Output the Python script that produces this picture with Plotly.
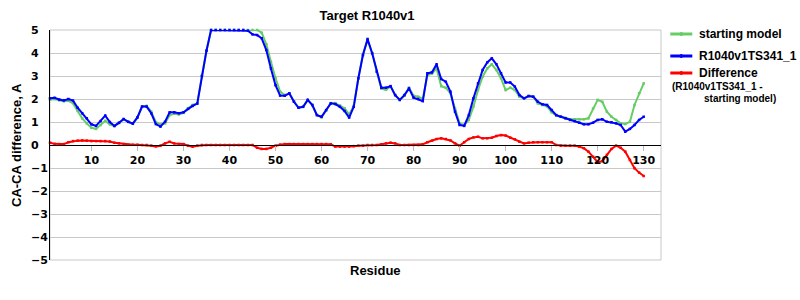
import plotly.graph_objects as go

residues = list(range(1, 131))

starting_model = [
    1.97, 2.00, 1.94, 1.90, 1.92, 1.82, 1.48, 1.16, 0.94, 0.75,
    0.70, 0.87, 1.05, 0.90, 0.82, 0.95, 1.12, 1.00, 0.92, 1.20,
    1.68, 1.70, 1.45, 0.99, 0.90, 0.94, 1.30, 1.36, 1.33, 1.40,
    1.60, 1.74, 1.81, 3.00, 4.10, 5.00, 5.00, 5.00, 5.00, 5.00,
    5.00, 5.00, 5.00, 5.00, 5.00, 5.00, 4.88, 4.38, 3.62, 2.90,
    2.32, 2.17, 2.25, 1.90, 1.62, 1.66, 1.96, 1.74, 1.30, 1.20,
    1.50, 1.82, 1.82, 1.72, 1.60, 1.33, 1.70, 2.90, 3.95, 4.55,
    4.00, 3.20, 2.45, 2.40, 2.55, 2.17, 1.96, 2.14, 2.49, 2.14,
    2.10, 2.00, 3.04, 3.10, 3.33, 2.56, 2.49, 2.25, 1.59, 0.94,
    0.87, 1.09, 1.67, 2.39, 2.97, 3.33, 3.51, 3.26, 2.90, 2.39,
    2.49, 2.39, 2.10, 2.03, 2.13, 2.10, 1.81, 1.74, 1.68, 1.42,
    1.28, 1.23, 1.18, 1.12, 1.12, 1.12, 1.12, 1.16, 1.59, 1.96,
    1.88, 1.45, 1.23, 1.09, 0.94, 0.91, 1.01, 1.74, 2.25, 2.68,
]

model = [
    2.03, 2.05, 1.98, 1.94, 2.00, 1.93, 1.62, 1.38, 1.16, 0.90,
    0.83, 1.04, 1.28, 1.00, 0.83, 0.97, 1.13, 1.01, 0.93, 1.20,
    1.67, 1.67, 1.38, 0.91, 0.80, 1.01, 1.42, 1.42, 1.38, 1.42,
    1.57, 1.70, 1.80, 3.00, 4.10, 5.00, 5.00, 5.00, 5.00, 5.00,
    5.00, 5.00, 5.00, 4.97, 4.81, 4.78, 4.64, 4.13, 3.33, 2.60,
    2.15, 2.14, 2.25, 1.88, 1.62, 1.66, 1.96, 1.74, 1.30, 1.23,
    1.52, 1.81, 1.78, 1.66, 1.48, 1.19, 1.66, 2.90, 3.91, 4.61,
    3.99, 3.19, 2.49, 2.49, 2.56, 2.17, 1.96, 2.17, 2.46, 2.06,
    2.00, 1.91, 3.12, 3.16, 3.51, 2.87, 2.75, 2.32, 1.45, 0.87,
    0.83, 1.30, 2.03, 2.68, 3.26, 3.59, 3.77, 3.51, 3.12, 2.72,
    2.72, 2.54, 2.17, 2.03, 2.13, 2.10, 1.88, 1.77, 1.74, 1.52,
    1.30, 1.23, 1.16, 1.09, 1.04, 0.97, 0.90, 0.90, 0.97, 1.09,
    1.12, 1.01, 0.99, 0.94, 0.87, 0.58, 0.70, 0.87, 1.09, 1.23,
]

difference = [
    0.10, 0.05, 0.04, 0.04, 0.12, 0.17, 0.19, 0.20, 0.19, 0.17,
    0.17, 0.17, 0.17, 0.15, 0.10, 0.07, 0.04, 0.01, 0.01, 0.01,
    0.00, 0.00, -0.03, -0.06, -0.03, 0.07, 0.14, 0.07, 0.04, 0.04,
    -0.03, -0.07, -0.03, 0.00, 0.00, 0.00, 0.00, 0.00, 0.00, 0.00,
    0.00, 0.00, 0.00, 0.00, 0.00, -0.12, -0.17, -0.17, -0.12, -0.03,
    0.02, 0.04, 0.04, 0.04, 0.04, 0.04, 0.04, 0.04, 0.04, 0.04,
    0.04, 0.03, -0.07, -0.07, -0.07, -0.07, -0.05, -0.03, -0.03, 0.00,
    0.00, 0.00, 0.03, 0.07, 0.10, 0.07, 0.00, 0.00, 0.00, 0.00,
    0.00, 0.03, 0.12, 0.19, 0.26, 0.29, 0.26, 0.20, 0.07, -0.03,
    0.12, 0.26, 0.33, 0.36, 0.29, 0.29, 0.32, 0.39, 0.43, 0.41,
    0.32, 0.25, 0.14, 0.07, 0.10, 0.12, 0.12, 0.12, 0.12, 0.12,
    0.00, -0.03, -0.03, -0.03, -0.03, -0.07, -0.14, -0.29, -0.51, -0.75,
    -0.70, -0.43, -0.17, -0.03, -0.12, -0.29, -0.65, -1.01, -1.20, -1.35,
]

x_ticks = [10, 20, 30, 40, 50, 60, 70, 80, 90, 100, 110, 120, 130]
y_ticks = [5, 4, 3, 2, 1, 0, -1, -2, -3, -4, -5]
y_tick_labels = ["5", "4", "3", "2", "1", "0", "\u22121", "\u22122", "\u22123", "\u22124", "\u22125"]

GREEN = "#66CC66"
BLUE = "#0000FF"
RED = "#FF0000"

TITLE_FONT = "Liberation Sans, Arial, sans-serif"
TICK_FONT = "DejaVu Sans, Verdana, sans-serif"

fig = go.Figure()
for name, vals, col in [("starting model", starting_model, GREEN),
                        ("R1040v1TS341_1", model, BLUE),
                        ("Difference", difference, RED)]:
    fig.add_trace(go.Scatter(
        x=residues, y=vals, name=name, mode="lines+markers",
        line=dict(color=col, width=2),
        marker=dict(color=col, size=2.5, symbol="square"),
        cliponaxis=False, showlegend=False,
    ))

# plot geometry: left 50, right 660.7, top 30, bottom 260
L, R, T, B = 50, 660.7, 30, 260
PW, PH = R - L, B - T


def px_x(p):
    return (p - L) / PW


def px_y(p):
    return (B - p) / PH


fig.update_layout(
    width=800, height=300,
    margin=dict(l=L, r=800 - R, t=T, b=300 - B),
    paper_bgcolor="white", plot_bgcolor="white",
    showlegend=False,
    title=dict(text="<b>Target R1040v1</b>", x=367 / 800, xanchor="center",
               y=1 - 15 / 300, yanchor="middle",
               font=dict(family=TITLE_FONT, size=13, color="black")),
    xaxis=dict(range=[1, 133.76], anchor="free", position=0.5,
               tickvals=x_ticks, ticks="outside", ticklen=5, tickcolor="#bbbbbb",
               showline=True, linecolor="black", linewidth=1,
               showgrid=False, zeroline=False,
               tickfont=dict(family=TICK_FONT, size=11, color="black", weight="bold")),
    yaxis=dict(range=[-5, 5], tickvals=y_ticks, showticklabels=False,
               showline=True, linecolor="black", linewidth=1,
               showgrid=True, gridcolor="#c8c8c8", gridwidth=1,
               zeroline=False),
)

# plot frame (gray)
fig.add_shape(type="rect", xref="paper", yref="paper", x0=0, x1=1, y0=0, y1=1,
              line=dict(color="#c8c8c8", width=1), layer="below")

# y tick labels (left aligned, as in the reference)
for v, lab in zip(y_ticks, y_tick_labels):
    fig.add_annotation(x=px_x(29), y=v, xref="paper", yref="y", text="<b>%s</b>" % lab,
                       showarrow=False, xanchor="left", yanchor="middle",
                       font=dict(family=TICK_FONT, size=11, color="black"))

# axis titles
fig.add_annotation(x=px_x(16), y=0.5, xref="paper", yref="paper",
                   text="<b>CA-CA difference, A</b>", textangle=-90, showarrow=False,
                   xanchor="center", yanchor="middle",
                   font=dict(family=TITLE_FONT, size=13, color="black"))
fig.add_annotation(x=px_x(375), y=px_y(270), xref="paper", yref="paper",
                   text="<b>Residue</b>", showarrow=False,
                   xanchor="center", yanchor="middle",
                   font=dict(family=TITLE_FONT, size=13, color="black"))

# legend
legend_items = [("starting model", GREEN, 34), ("R1040v1TS341_1", BLUE, 56), ("Difference", RED, 73)]
for text, col, ypx in legend_items:
    fig.add_shape(type="line", xref="paper", yref="paper",
                  x0=px_x(670), x1=px_x(692), y0=px_y(ypx), y1=px_y(ypx),
                  line=dict(color=col, width=3))
    fig.add_shape(type="rect", xref="paper", yref="paper",
                  x0=px_x(680), x1=px_x(682), y0=px_y(ypx + 2), y1=px_y(ypx - 2),
                  line=dict(width=0), fillcolor=col)
    fig.add_annotation(x=px_x(697), y=px_y(ypx), xref="paper", yref="paper",
                       text="<b>%s</b>" % text, showarrow=False,
                       xanchor="left", yanchor="middle",
                       font=dict(family=TITLE_FONT, size=12, color="black"))
fig.add_annotation(x=px_x(670), y=px_y(86.5), xref="paper", yref="paper",
                   text="<b>(R1040v1TS341_1 -</b>", showarrow=False,
                   xanchor="left", yanchor="middle",
                   font=dict(family=TITLE_FONT, size=10, color="black"))
fig.add_annotation(x=px_x(702), y=px_y(98.5), xref="paper", yref="paper",
                   text="<b>starting model)</b>", showarrow=False,
                   xanchor="left", yanchor="middle",
                   font=dict(family=TITLE_FONT, size=10, color="black"))

fig.write_html("out.html")
